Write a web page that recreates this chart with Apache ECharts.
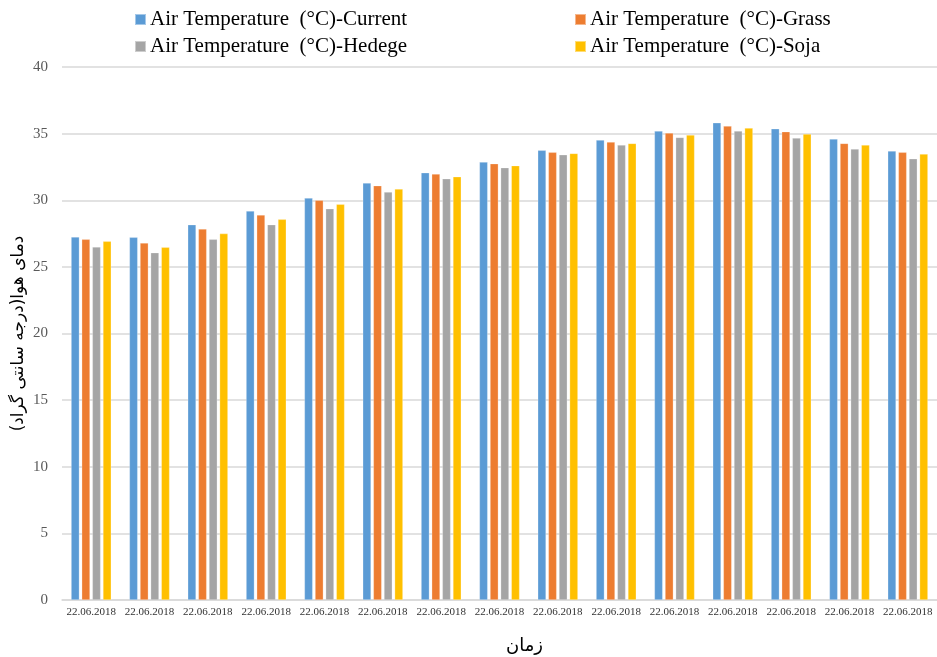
<!DOCTYPE html>
<html>
<head>
<meta charset="utf-8">
<script src="https://cdn.jsdelivr.net/npm/echarts@6/dist/echarts.min.js"></script>
<style>
  html, body { margin: 0; padding: 0; background: #fff; }
  #chart { width: 937px; height: 657px; }
</style>
</head>
<body>
<div id="chart"></div>
<script>
// Hourly air temperature readings on 22.06.2018 for four surface types
const categories = [
  '22.06.2018', '22.06.2018', '22.06.2018', '22.06.2018', '22.06.2018',
  '22.06.2018', '22.06.2018', '22.06.2018', '22.06.2018', '22.06.2018',
  '22.06.2018', '22.06.2018', '22.06.2018', '22.06.2018', '22.06.2018'
];
const currentTemp = [27.25, 27.22, 28.17, 29.2, 30.17, 31.3, 32.07, 32.87, 33.75, 34.52, 35.2, 35.82, 35.37, 34.6, 33.7];
const grassTemp   = [27.07, 26.8, 27.85, 28.9, 30.0, 31.1, 31.97, 32.75, 33.6, 34.37, 35.05, 35.57, 35.15, 34.27, 33.6];
const hedegeTemp  = [26.5, 26.07, 27.07, 28.17, 29.37, 30.62, 31.62, 32.45, 33.42, 34.15, 34.72, 35.2, 34.67, 33.85, 33.12];
const sojaTemp    = [26.92, 26.47, 27.5, 28.57, 29.7, 30.85, 31.77, 32.6, 33.52, 34.27, 34.9, 35.42, 34.97, 34.15, 33.47];

const seriesNames = [
  'Air Temperature  (°C)-Current',
  'Air Temperature  (°C)-Grass',
  'Air Temperature  (°C)-Hedege',
  'Air Temperature  (°C)-Soja'
];
const seriesColors = ['#5B9BD5', '#ED7D31', '#A5A5A5', '#FFC000'];
const yTicks = { min: 0, max: 40, interval: 5 };

const serif = '"Times New Roman", "Liberation Serif", serif';
const arabic = '"DejaVu Sans", sans-serif';

const legendBase = {
  orient: 'vertical',
  icon: 'rect',
  itemWidth: 11,
  itemHeight: 11,
  itemGap: 6,
  padding: 0,
  textStyle: { fontFamily: serif, fontSize: 21, color: '#000', padding: [0, 0, 0, -1] }
};

const chart = echarts.init(document.getElementById('chart'), null, { renderer: 'canvas' });

chart.setOption({
  animation: false,
  backgroundColor: '#fff',
  color: seriesColors,
  legend: [
    Object.assign({}, legendBase, { left: 134, top: 9, data: [seriesNames[0], seriesNames[2]] }),
    Object.assign({}, legendBase, { left: 574, top: 9, data: [seriesNames[1], seriesNames[3]] })
  ],
  grid: { left: 62, right: 0, top: 67, bottom: 57, containLabel: false, outerBoundsMode: 'none' },
  xAxis: {
    type: 'category',
    data: categories,
    axisLine: { show: true, lineStyle: { color: '#d9d9d9', width: 1.5 } },
    axisTick: { show: false },
    axisLabel: { fontFamily: serif, fontSize: 11, color: '#333', margin: 7, interval: 0 },
    name: 'زمان',
    nameLocation: 'middle',
    nameGap: 37,
    nameMoveOverlap: false,
    nameTextStyle: { fontFamily: arabic, fontSize: 18, color: '#000', padding: [0, 0, 0, 50] }
  },
  yAxis: {
    type: 'value',
    min: yTicks.min,
    max: yTicks.max,
    interval: yTicks.interval,
    axisLine: { show: false },
    axisTick: { show: false },
    splitLine: { lineStyle: { color: '#d9d9d9', width: 1.5 } },
    axisLabel: { fontFamily: serif, fontSize: 15, color: '#595959', margin: 14 },
    name: 'دمای هوا(درجه سانتی گراد)',
    nameLocation: 'middle',
    nameRotate: 90,
    nameGap: 35,
    nameMoveOverlap: false,
    nameTextStyle: { fontFamily: arabic, fontSize: 17, color: '#000' }
  },
  series: [currentTemp, grassTemp, hedegeTemp, sojaTemp].map((vals, i) => ({
    name: seriesNames[i],
    type: 'bar',
    data: vals,
    barGap: '27%',
    barCategoryGap: '31%',
    itemStyle: { color: seriesColors[i], borderColor: 'rgba(255,255,255,0.45)', borderWidth: 0.6 }
  }))
});
</script>
</body>
</html>
